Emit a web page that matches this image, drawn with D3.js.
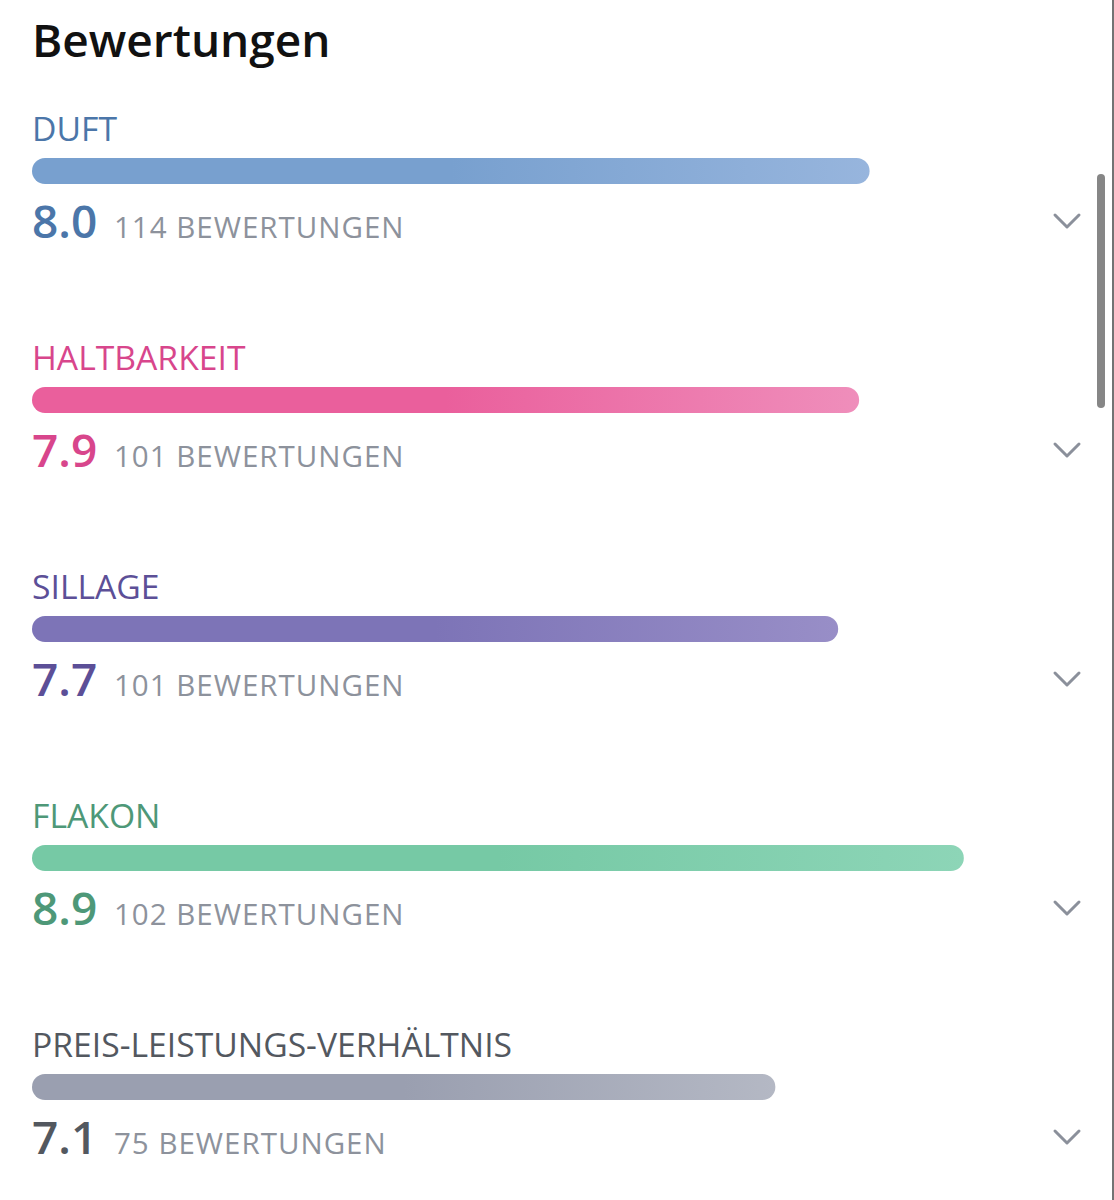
<!DOCTYPE html>
<html>
<head>
<meta charset="utf-8">
<script src="https://cdn.jsdelivr.net/npm/d3@7"></script>
<style>
  html, body { margin: 0; padding: 0; background: #fff; }
  svg { display: block; font-family: "Open Sans", sans-serif; }
</style>
</head>
<body>
<svg id="vis"></svg>
<script>
// chart values
var categories = ["DUFT", "HALTBARKEIT", "SILLAGE", "FLAKON", "PREIS-LEISTUNGS-VERHÄLTNIS"]
var scores = [8.0, 7.9, 7.7, 8.9, 7.1]
var counts = [114, 101, 101, 102, 75]
var countLabel = "BEWERTUNGEN"
var title = "Bewertungen"

// colours per category: text, bar start, bar end
var textColors = ["#4b76a9", "#d8468c", "#5c4f97", "#4e9878", "#53585f"]
var barStart = ["#78a0cf", "#ea5f9c", "#7d74b7", "#76c9a5", "#9a9fb0"]
var barEnd = ["#97b5dd", "#ef8ebb", "#988ec7", "#8dd5b7", "#b4b8c4"]

var width = 1114, height = 1200
var left = 32
var rowStep = 229
var barH = 26

var svg = d3.select("#vis")
    .attr("width", width)
    .attr("height", height)

var x = d3.scaleLinear()
    .domain([0, 10])
    .range([0, 1047])

var defs = svg.append("defs")
categories.forEach(function(c, i) {
    var g = defs.append("linearGradient")
        .attr("id", "grad" + i)
        .attr("x1", "0%").attr("x2", "100%")
        .attr("y1", "0%").attr("y2", "0%")
    g.append("stop").attr("offset", "0%").attr("stop-color", barStart[i])
    g.append("stop").attr("offset", "50%").attr("stop-color", barStart[i])
    g.append("stop").attr("offset", "100%").attr("stop-color", barEnd[i])
})

// title
svg.append("text")
    .attr("x", 32)
    .attr("y", 57)
    .attr("font-size", 46)
    .attr("font-weight", 600)
    .attr("fill", "#111")
    .text(title)

var rows = svg.selectAll("g.row")
    .data(categories)
    .enter()
    .append("g")
    .attr("class", "row")
    .attr("transform", function(d, i) { return `translate(${left},${i * rowStep})` })

rows.append("text")
    .attr("x", 0)
    .attr("y", 141)
    .attr("font-size", 33.7)
    .attr("fill", function(d, i) { return textColors[i] })
    .text(function(d) { return d })

rows.append("rect")
    .attr("x", 0)
    .attr("y", 158)
    .attr("height", barH)
    .attr("rx", barH / 2)
    .attr("width", function(d, i) { return x(scores[i]) })
    .attr("fill", function(d, i) { return `url(#grad${i})` })

rows.append("text")
    .attr("x", 0)
    .attr("y", 238)
    .attr("font-size", 46)
    .attr("font-weight", 600)
    .attr("fill", function(d, i) { return textColors[i] })
    .text(function(d, i) { return scores[i].toFixed(1) })

rows.append("text")
    .attr("x", 82)
    .attr("y", 238)
    .attr("font-size", 29.5)
    .attr("letter-spacing", 1)
    .attr("fill", "#8d929c")
    .text(function(d, i) { return counts[i] + " " + countLabel })

// expand chevrons
rows.append("path")
    .attr("d", "M1023,215 L1035,227 L1047,215")
    .attr("fill", "none")
    .attr("stroke", "#8b909b")
    .attr("stroke-width", 3)
    .attr("stroke-linecap", "round")
    .attr("stroke-linejoin", "round")

// scrollbar and right border
svg.append("rect")
    .attr("x", 1097).attr("y", 174)
    .attr("width", 8).attr("height", 234)
    .attr("rx", 4)
    .attr("fill", "#868686")

svg.append("line")
    .attr("x1", 1113).attr("x2", 1113)
    .attr("y1", 0).attr("y2", height)
    .attr("stroke", "#444")
    .attr("stroke-width", 1.5)
</script>
</body>
</html>
